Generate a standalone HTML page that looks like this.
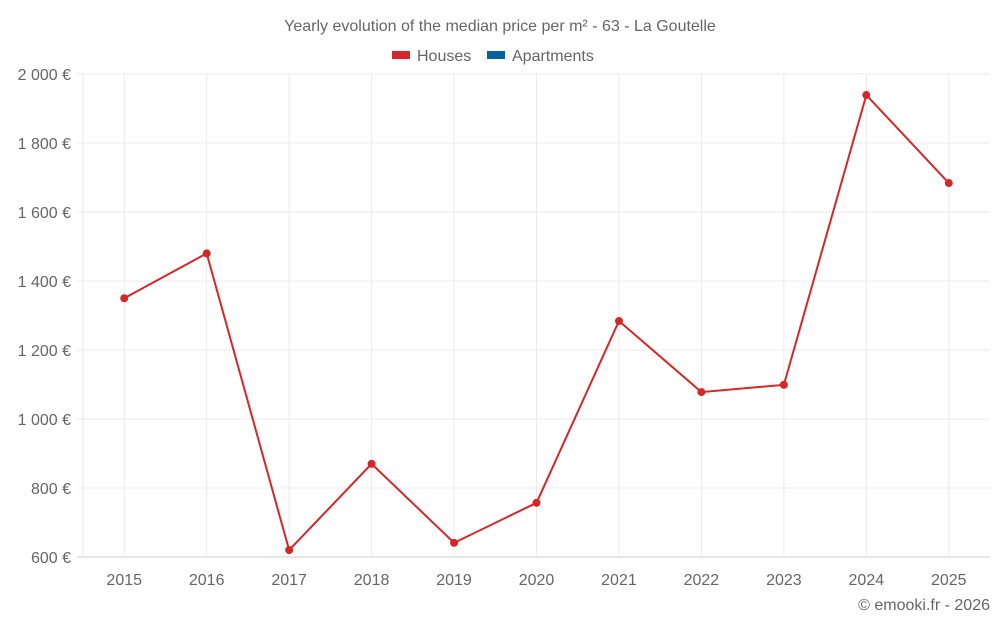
<!DOCTYPE html>
<html><head><meta charset="utf-8"><style>
body{margin:0;background:#fff;font-family:"Liberation Sans",sans-serif;}
svg text{font-family:"Liberation Sans",sans-serif;fill:#666;}
</style></head><body>
<svg id="chart" width="1000" height="625" xmlns="http://www.w3.org/2000/svg">
<text x="500" y="31" text-anchor="middle" font-size="16">Yearly evolution of the median price per m² - 63 - La Goutelle</text>
<g><rect x="392" y="51" width="18" height="8" fill="#d62728"/><text x="417" y="61" font-size="16">Houses</text></g>
<g><rect x="487" y="51" width="18" height="8" fill="#0063a0"/><text x="512" y="61" font-size="16">Apartments</text></g>
<g id="grid"></g><g id="axes"></g><g id="series"></g>
<text x="990" y="610" text-anchor="end" font-size="16">© emooki.fr - 2026</text>
</svg>
<script>
const years=["2015","2016","2017","2018","2019","2020","2021","2022","2023","2024","2025"];
const houses=[1350,1480,620,870,641,757,1284,1078,1099,1939,1684];
const yTicks=[600,800,1000,1200,1400,1600,1800,2000];
const yTickLabels=["600 €","800 €","1 000 €","1 200 €","1 400 €","1 600 €","1 800 €","2 000 €"];
const L=83,R=990,T=74,B=557,yMin=600,yMax=2000;
const NS="http://www.w3.org/2000/svg";
const band=(R-L)/years.length;
const x=i=>L+band*(i+0.5);
const y=v=>B-(v-yMin)/(yMax-yMin)*(B-T);
function mk(tag,attrs,parent){const e=document.createElementNS(NS,tag);for(const k in attrs)e.setAttribute(k,attrs[k]);document.getElementById(parent).appendChild(e);return e;}
yTicks.forEach((t,i)=>{
 const g=mk('line',{x1:L-6,x2:R,y1:y(t),y2:y(t),stroke:i===0?'#ccc':'#ebebeb'},'grid');
 
 
 const tx=mk('text',{x:L-12,y:y(t)+6,'text-anchor':'end','font-size':16},'axes');
 tx.textContent=yTickLabels[i];
 
 
});
const ax=mk('line',{x1:L,x2:L,y1:T,y2:B,stroke:'#e6e6e6'},'grid');


years.forEach((yr,i)=>{
 const g=mk('line',{x1:x(i),x2:x(i),y1:T,y2:B,stroke:'#ebebeb'},'grid');
 
 
 const tx=mk('text',{x:x(i),y:585,'text-anchor':'middle','font-size':16},'axes');
 tx.textContent=yr;
 
 
});
const line=mk('polyline',{points:houses.map((v,i)=>x(i)+','+y(v)).join(' '),fill:'none',stroke:'#d62728','stroke-width':2},'series');


houses.forEach((v,i)=>{
 const c=mk('circle',{cx:x(i),cy:y(v),r:4,fill:'#d62728'},'series');
 
 
});
</script>
</body></html>
